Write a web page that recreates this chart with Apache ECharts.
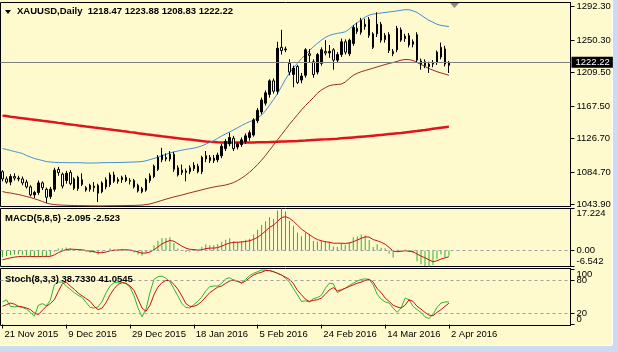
<!DOCTYPE html>
<html>
<head>
<meta charset="utf-8">
<script src="https://cdn.jsdelivr.net/npm/echarts@6/dist/echarts.min.js"></script>
<style>
  html, body { margin: 0; padding: 0; background: #fff9ce; }
  #chart { width: 618px; height: 352px; }
</style>
</head>
<body>
<div id="chart"></div>
<script>
// daily bars, [open, high, low, close]
var candles = [
  [1085, 1087, 1073, 1076], [1076, 1079, 1070, 1072], [1072, 1082, 1068, 1079], [1079, 1083, 1074, 1077],
  [1077, 1080, 1073, 1076], [1076, 1079, 1068, 1071], [1072, 1075, 1064, 1066], [1066, 1068, 1054, 1056],
  [1056, 1061, 1052, 1059], [1059, 1074, 1056, 1071], [1071, 1073, 1062, 1065], [1063, 1065, 1046, 1053],
  [1054, 1066, 1051, 1063], [1063, 1090, 1060, 1087], [1088, 1091, 1080, 1084], [1082, 1084, 1064, 1067],
  [1074, 1086, 1070, 1083], [1084, 1087, 1068, 1070], [1076, 1078, 1062, 1064], [1064, 1080, 1061, 1078],
  [1075, 1083, 1067, 1069], [1065, 1067, 1060, 1062], [1063, 1070, 1060, 1068], [1067, 1072, 1060, 1065],
  [1068, 1070, 1047, 1058], [1060, 1073, 1058, 1071], [1066, 1078, 1063, 1075], [1069, 1084, 1066, 1081],
  [1081, 1085, 1071, 1073], [1073, 1078, 1070, 1075], [1075, 1080, 1071, 1078], [1078, 1081, 1072, 1074],
  [1074, 1077, 1069, 1073], [1074, 1076, 1064, 1066], [1068, 1070, 1059, 1061], [1064, 1066, 1058, 1060],
  [1062, 1077, 1060, 1075], [1074, 1083, 1071, 1080], [1079, 1094, 1077, 1092], [1088, 1106, 1086, 1103],
  [1100, 1115, 1097, 1106], [1103, 1108, 1098, 1101], [1101, 1111, 1098, 1107], [1107, 1110, 1085, 1088],
  [1090, 1093, 1079, 1081], [1087, 1094, 1081, 1084], [1086, 1089, 1073, 1084], [1090, 1093, 1082, 1085],
  [1089, 1097, 1086, 1093], [1092, 1095, 1083, 1085], [1085, 1105, 1082, 1103], [1101, 1111, 1097, 1105],
  [1103, 1106, 1096, 1099], [1099, 1106, 1096, 1102], [1100, 1109, 1097, 1106], [1105, 1120, 1102, 1117],
  [1114, 1126, 1111, 1123], [1120, 1134, 1117, 1128], [1127, 1130, 1111, 1114], [1116, 1122, 1113, 1120],
  [1119, 1128, 1116, 1125], [1123, 1133, 1120, 1130], [1128, 1137, 1124, 1134], [1131, 1152, 1129, 1150],
  [1149, 1165, 1146, 1162], [1160, 1178, 1157, 1175], [1171, 1187, 1168, 1184], [1182, 1201, 1178, 1199],
  [1199, 1202, 1183, 1186], [1186, 1248, 1182, 1240], [1241, 1263, 1232, 1237], [1238, 1242, 1235, 1239],
  [1221, 1226, 1206, 1210], [1207, 1218, 1191, 1215], [1217, 1219, 1195, 1197], [1200, 1209, 1196, 1205],
  [1206, 1240, 1203, 1238], [1233, 1239, 1222, 1231], [1223, 1226, 1203, 1207], [1210, 1234, 1207, 1232],
  [1221, 1241, 1218, 1238], [1236, 1250, 1231, 1234], [1234, 1244, 1228, 1236], [1238, 1240, 1213, 1225],
  [1225, 1235, 1222, 1232], [1232, 1252, 1229, 1248], [1248, 1251, 1232, 1235], [1233, 1252, 1230, 1250],
  [1246, 1269, 1243, 1266], [1265, 1272, 1258, 1261], [1260, 1278, 1257, 1275], [1270, 1277, 1263, 1267],
  [1276, 1279, 1253, 1256], [1258, 1260, 1239, 1241], [1258, 1285, 1254, 1270], [1270, 1273, 1247, 1250],
  [1251, 1259, 1247, 1256], [1257, 1260, 1234, 1237], [1236, 1239, 1230, 1233], [1238, 1268, 1235, 1265],
  [1263, 1266, 1248, 1250], [1252, 1258, 1248, 1255], [1256, 1259, 1241, 1244], [1245, 1251, 1241, 1248],
  [1257, 1260, 1222, 1225], [1224, 1227, 1213, 1220], [1223, 1226, 1215, 1218], [1217, 1223, 1209, 1220],
  [1220, 1225, 1216, 1221], [1222, 1237, 1219, 1235], [1229, 1247, 1226, 1241], [1239, 1243, 1217, 1220],
  [1218.47, 1223.88, 1208.83, 1222.22]
];

var upperBand = [
  1114.2, 1112.9, 1111.7, 1110.4, 1109.2, 1107.9, 1105.4, 1103.5, 1101.6, 1100.4, 1099.1, 1097.8, 1097.2,
  1096.8, 1096.6, 1096.5, 1096.4, 1096.3, 1096.3, 1096.4, 1096.2, 1096.0, 1095.9, 1096.0, 1096.1, 1096.3,
  1096.4, 1096.5, 1096.5, 1096.6, 1096.7, 1096.9, 1097.0, 1097.2,
  1097.4, 1097.8, 1098.8, 1100.2, 1101.7, 1103.2, 1105.0, 1106.8, 1108.6, 1109.9, 1111.0, 1112.1, 1113.0,
  1113.8, 1114.6, 1115.8, 1117.5, 1119.6, 1121.8,
  1124.0, 1127.0, 1129.8, 1132.5, 1135.0, 1137.6, 1140.3, 1143.0, 1145.6, 1147.8,
  1149.8, 1152.6, 1156.0, 1161.5, 1168.5, 1175.5, 1183.0, 1192.0, 1201.0, 1209.0,
  1215.5, 1221.0, 1227.0, 1232.0, 1237.0, 1241.8, 1246.0, 1250.0, 1253.5, 1256.0,
  1257.5, 1258.6, 1259.4, 1260.5, 1264.0, 1268.5, 1272.0, 1275.5, 1279.0, 1281.5,
  1282.8, 1283.5, 1284.2, 1284.8, 1285.5, 1286.0, 1286.8, 1287.5, 1288.3, 1288.2,
  1286.8, 1284.8, 1281.5, 1278.0, 1275.0, 1272.5, 1270.0, 1268.6, 1267.8, 1267.2
];

var lowerBand = [
  1060.2, 1058.9, 1058.3, 1057.3, 1056.5, 1055.2, 1053.9, 1052.7, 1051.2, 1049.5, 1047.7, 1045.8, 1044.5, 1043.9,
  1043.4, 1043.1, 1042.9, 1042.8, 1042.6, 1042.5, 1042.5, 1042.4, 1042.3, 1042.3, 1042.2, 1042.2, 1042.3,
  1042.4, 1042.4, 1042.5, 1042.5, 1042.6, 1042.7, 1042.8, 1042.9, 1043.2,
  1043.8, 1044.6, 1046.0, 1047.5, 1049.0, 1050.6, 1052.0, 1053.4, 1054.6, 1055.8,
  1057.2, 1058.5, 1059.8, 1061.0, 1062.3, 1063.6, 1064.8, 1065.8, 1066.8, 1067.5,
  1068.4, 1069.8, 1071.5, 1074.0, 1077.0, 1080.5, 1084.5, 1089.0, 1094.0, 1099.5,
  1105.5, 1112.0, 1118.5, 1125.0, 1131.5, 1138.0, 1144.5, 1150.5, 1156.5, 1162.5,
  1168.0, 1173.0, 1178.0, 1183.5, 1187.5, 1190.5, 1193.0, 1194.0, 1194.5, 1195.0,
  1197.5, 1202.0, 1206.0, 1208.5, 1210.5, 1212.0, 1213.5, 1215.0, 1216.5, 1218.0,
  1219.5, 1220.8, 1222.0, 1223.5, 1225.0, 1225.8, 1225.6, 1224.5, 1222.0, 1219.5,
  1217.0, 1214.5, 1212.5, 1210.5, 1209.0, 1207.5, 1206.0
];

// slow moving average (thick red)
var slowMa = [
  1155.4, 1154.8, 1154.1, 1153.5, 1152.8, 1152.2, 1151.5, 1150.8, 1150.2,
  1149.6, 1148.9, 1148.3, 1147.6, 1147.0, 1146.3, 1145.7, 1145.0,
  1144.4, 1143.8, 1143.1, 1142.5, 1141.8, 1141.2, 1140.5, 1139.9,
  1139.3, 1138.6, 1138.0, 1137.3, 1136.7, 1136.0, 1135.4, 1134.7,
  1134.1, 1133.4, 1132.8, 1132.1, 1131.5, 1130.8, 1130.2, 1129.5, 1128.9,
  1128.3, 1127.7, 1127.1, 1126.5, 1125.9, 1125.3, 1124.7, 1124.1, 1123.5,
  1123.0, 1122.6, 1122.3, 1122.0, 1121.8, 1121.7, 1121.6, 1121.6,
  1121.6, 1121.6, 1121.7, 1121.7, 1121.8, 1121.9, 1122.0, 1122.1, 1122.2, 1122.4, 1122.6, 1122.8,
  1123.0, 1123.2, 1123.4, 1123.6, 1123.9, 1124.1, 1124.4, 1124.7, 1125.0, 1125.3, 1125.6, 1125.9, 1126.2,
  1126.5, 1126.9, 1127.3, 1127.7, 1128.1, 1128.5, 1128.9, 1129.3,
  1129.7, 1130.2, 1130.7, 1131.2, 1131.7, 1132.2, 1132.7, 1133.2, 1133.7,
  1134.3, 1134.9, 1135.5, 1136.1, 1136.8, 1137.4, 1138.1, 1138.8, 1139.5, 1140.2, 1140.9, 1141.6
];

var macdMain = [
  -2.6, -2.2, -1.8, -1.6, -1.5, -1.7, -2.0, -2.4, -2.7, -2.3, -2.1, -2.5, -2.2,
  -0.5, 0.8, 0.9, 1.2, 0.8, 0.1, 0.4, 0.2, -0.6, -0.8, -0.9, -1.6, -0.8, 0.0, 0.8, 0.5, 0.4, 0.6, 0.4, 0.0, -0.8, -1.6, -2.0, -0.9, 0.3,
  2.1, 4.0, 5.0, 5.1, 5.4, 3.0, 0.8, -0.2, -0.6, -0.5, 0.2, -0.3, 1.6, 2.6, 2.2, 2.2, 2.6, 3.6, 4.4, 5.0, 3.9, 3.6, 3.9, 4.4, 4.8,
  6.6, 8.5, 10.5, 12.0, 13.6, 12.9, 16.4, 17.224, 16.0, 12.2, 10.2, 7.4, 5.9, 7.3, 6.8, 3.9, 3.7, 4.0, 3.8, 3.6, 1.7, 1.4, 3.0, 2.4, 3.4,
  5.4, 5.7, 6.6, 6.2, 4.3, 1.4, 2.6, 1.1, 0.9, -1.3, -2.9, 0.3, 0.2, 0.4, -0.6, -0.9, -4.4, -5.6, -6.3, -6.542, -5.9, -3.6, -1.6, -2.7, -2.095
];

var macdSignal = [
  -3.8, -3.4, -3.0, -2.7, -2.5, -2.4, -2.4, -2.4, -2.5, -2.5, -2.4, -2.4, -2.4,
  -1.8, -0.9, -0.2, 0.4, 0.6, 0.5, 0.4, 0.3, 0.0, -0.3, -0.5, -0.9, -0.9, -0.6, -0.1, 0.1, 0.2, 0.3, 0.3, 0.2, -0.1, -0.6, -1.1, -1.0, -0.6,
  0.3, 1.5, 2.7, 3.5, 4.1, 3.8, 2.8, 1.8, 1.0, 0.5, 0.4, 0.2, 0.3, 0.8, 1.0, 1.0, 1.2, 1.8, 2.5, 3.1, 3.3, 3.4, 3.5, 3.7, 4.0,
  4.6, 5.4, 6.6, 8.0, 9.5, 10.4, 12.0, 13.5, 13.9, 13.2, 12.0, 10.4, 8.8, 7.6, 6.5, 5.4, 4.5, 4.0, 3.6, 3.4, 3.0, 3.0, 3.0, 2.9, 3.1,
  3.6, 4.3, 5.0, 5.6, 5.5, 4.5, 4.0, 3.4, 2.6, 1.3, -0.2, -0.5, -0.3, -0.1, -0.3, -0.5, -1.4, -2.3, -3.0, -3.8, -4.6, -4.2, -3.5, -3.0, -2.523
];

var stochGreen = [
  41, 45, 33, 32, 33, 31, 28, 22, 15, 35, 38, 34, 44, 72, 77, 77, 70, 64, 58, 53, 49, 40, 31, 30, 32,
  42, 58, 70, 76, 77, 77, 74, 68, 52, 30, 14, 28, 58, 82, 87, 88, 84, 78, 65, 52, 38, 31, 30, 36, 42,
  50, 61, 69, 70, 70, 75, 83, 85, 80, 78, 76, 82, 89, 93, 96, 99, 99, 98, 96, 93, 90, 84, 77, 65, 54,
  42, 43, 41, 47, 49, 53, 66, 75, 74, 58, 62, 66, 71, 75, 79, 82, 83, 82, 72, 55, 46, 41, 39, 30, 22,
  30, 48, 45, 33, 27, 22, 14, 11, 18, 31, 39, 41, 41.0545
];

var stochRed = [
  33, 36, 39, 37, 33, 32, 30, 27, 21, 18, 26, 33, 38, 45, 60, 74, 77, 70, 64, 57, 52, 47, 42, 33, 27,
  30, 40, 54, 65, 73, 76, 75, 70, 62, 46, 30, 24, 35, 54, 68, 76, 80, 80, 73, 64, 52, 38, 33, 33, 36,
  42, 50, 58, 63, 68, 70, 75, 79, 81, 79, 75, 79, 85, 90, 93, 95, 98, 98, 96, 93, 90, 86, 82, 74, 62,
  54, 46, 42, 44, 45, 48, 55, 63, 67, 61, 63, 66, 69, 72, 75, 77, 80, 82, 77, 65, 58, 48, 42, 35, 32,
  30, 35, 45, 42, 33, 28, 22, 17, 16, 22, 27, 33, 38.733
];

var dateLabels = ["21 Nov 2015", "9 Dec 2015", "29 Dec 2015", "18 Jan 2016", "5 Feb 2016", "24 Feb 2016", "14 Mar 2016", "2 Apr 2016"];
var dateStep = 16;
var priceTicks = [1292.30, 1250.30, 1209.50, 1167.50, 1126.70, 1084.70, 1043.90];
var macdTicks = [17.224, 0, -6.542];
var stochTicks = [100, 80, 20, 0];
var stochLevels = [80, 20];

var slotCount = 143; // bars + empty right shift
var slots = [];
for (var i = 0; i < slotCount; i++) slots.push(i);

var last = candles[candles.length - 1];
var font = "Liberation Sans";
var txt = { color: "#000", fontFamily: font, fontSize: 9.5 };

function isDateSlot(idx) {
  return idx % dateStep === 0 && idx / dateStep < dateLabels.length;
}

function hiddenX(g) {
  return {
    type: "category", gridIndex: g, data: slots, boundaryGap: true,
    axisLine: { show: false }, axisTick: { show: false },
    axisLabel: { show: false }, splitLine: { show: false }
  };
}

function sideAxis(g, min, max, labels, ticks, vAlign, fmt, showLine) {
  return {
    type: "value", gridIndex: g, position: "right", min: min, max: max,
    splitLine: { show: false },
    axisLine: { show: showLine, onZero: false, lineStyle: { color: "#000", width: 1 } },
    axisTick: { show: !!ticks, customValues: ticks || [], length: 4, lineStyle: { color: "#000" } },
    axisLabel: {
      customValues: labels, margin: 6, verticalAlign: vAlign,
      color: "#000", fontFamily: font, fontSize: 9.5, formatter: fmt
    }
  };
}

var priceFmt = function (v) { return v.toFixed(2); };
var macdFmt = function (v) { return v === 0 ? "0.00" : String(v); };
var plainFmt = function (v) { return String(v); };

// panel frames sit on half pixels so the borders come out crisp
var panel = { left: 0.5, width: 570, show: true, borderColor: "#000", borderWidth: 1, backgroundColor: "transparent" };
function grid(top, height) {
  return Object.assign({}, panel, { top: top, height: height });
}

var chart = echarts.init(document.getElementById("chart"));

var option = {
  backgroundColor: "#fff9ce",
  animation: false,
  title: [
    {
      text: "XAUUSD,Daily  " + last[0].toFixed(2) + " " + last[1].toFixed(2) + " " + last[2].toFixed(2) + " " + last[3].toFixed(2),
      left: 17, top: 6, padding: 0, textStyle: txt
    },
    {
      text: "MACD(5,8,5) " + macdMain[macdMain.length - 1].toFixed(3) + " " + macdSignal[macdSignal.length - 1].toFixed(3),
      left: 5, top: 213, padding: 0, textStyle: txt
    },
    {
      text: "Stoch(8,3,3) " + stochRed[stochRed.length - 1].toFixed(4) + " " + stochGreen[stochGreen.length - 1].toFixed(4),
      left: 5, top: 274, padding: 0, textStyle: txt
    }
  ],
  grid: [grid(2.5, 204), grid(208.5, 58), grid(268.5, 57)],
  xAxis: [
    hiddenX(0),
    hiddenX(1),
    {
      type: "category", gridIndex: 2, data: slots, boundaryGap: true,
      axisLine: { show: false },
      splitLine: { show: false },
      axisTick: {
        show: true, alignWithLabel: true, length: 4,
        interval: function (idx) { return isDateSlot(idx); },
        lineStyle: { color: "#000" }
      },
      axisLabel: {
        show: true, align: "left", margin: 4, padding: [0, 0, 0, 2],
        color: "#000", fontFamily: font, fontSize: 9.5,
        interval: function (idx) { return isDateSlot(idx); },
        formatter: function (v, idx) { return isDateSlot(idx) ? dateLabels[idx / dateStep] : ""; }
      }
    }
  ],
  yAxis: [
    sideAxis(0, 1041.4, 1297.3, priceTicks, priceTicks, "middle", priceFmt, true),
    sideAxis(1, macdTicks[2], macdTicks[0], [macdTicks[1]], macdTicks, "middle", macdFmt, true),
    sideAxis(1, macdTicks[2], macdTicks[0], [macdTicks[0]], null, "top", macdFmt, false),
    sideAxis(1, macdTicks[2], macdTicks[0], [macdTicks[2]], null, "bottom", macdFmt, false),
    sideAxis(2, -1.8, 101.8, [stochTicks[1], stochTicks[2]], stochTicks, "middle", plainFmt, true),
    sideAxis(2, -1.8, 101.8, [stochTicks[0]], null, "top", plainFmt, false),
    sideAxis(2, -1.8, 101.8, [stochTicks[3]], null, "bottom", plainFmt, false)
  ],
  series: [
    {
      type: "line", xAxisIndex: 0, yAxisIndex: 0, data: slowMa, symbol: "none", z: 2,
      lineStyle: { color: "#e0141b", width: 2.5 }
    },
    {
      type: "line", xAxisIndex: 0, yAxisIndex: 0, data: upperBand, symbol: "none", z: 3,
      lineStyle: { color: "#3f8fd8", width: 1 }
    },
    {
      type: "line", xAxisIndex: 0, yAxisIndex: 0, data: lowerBand, symbol: "none", z: 3,
      lineStyle: { color: "#9a2c1e", width: 1 }
    },
    {
      type: "candlestick", xAxisIndex: 0, yAxisIndex: 0, z: 4, barWidth: 2,
      data: candles.map(function (c) { return [c[0], c[3], c[2], c[1]]; }),
      itemStyle: { color: "#000", color0: "#ffffff", borderColor: "#000", borderColor0: "#000", borderWidth: 1 },
      markLine: {
        silent: true, symbol: ["none", "none"],
        data: [{ yAxis: last[3] }],
        lineStyle: { color: "#808080", width: 1, type: "solid" },
        label: {
          show: true, position: "end", distance: 1,
          formatter: last[3].toFixed(2),
          backgroundColor: "#000", color: "#fff", padding: [1, 3, 0, 4],
          fontFamily: font, fontSize: 9.5
        }
      }
    },
    {
      type: "bar", xAxisIndex: 1, yAxisIndex: 1, data: macdMain, barWidth: 1,
      itemStyle: { color: "#33b033" },
      markLine: {
        silent: true, symbol: ["none", "none"], data: [{ yAxis: 0 }],
        lineStyle: { color: "#a0a0a0", width: 1, type: [3, 3] },
        label: { show: false }
      }
    },
    {
      type: "line", xAxisIndex: 1, yAxisIndex: 1, data: macdSignal, symbol: "none",
      lineStyle: { color: "#cc1010", width: 1 }
    },
    {
      type: "line", xAxisIndex: 2, yAxisIndex: 4, data: stochGreen, symbol: "none",
      lineStyle: { color: "#2fb52f", width: 1 },
      markLine: {
        silent: true, symbol: ["none", "none"],
        data: stochLevels.map(function (v) { return { yAxis: v }; }),
        lineStyle: { color: "#a0a0a0", width: 1, type: [3, 3] },
        label: { show: false }
      }
    },
    {
      type: "line", xAxisIndex: 2, yAxisIndex: 4, data: stochRed, symbol: "none",
      lineStyle: { color: "#cc1010", width: 1 }
    }
  ],
  graphic: [
    { type: "polygon", shape: { points: [[5, 10], [11, 10], [8, 14]] }, style: { fill: "#000" } },
    { type: "polygon", shape: { points: [[450, 3], [459, 3], [454.5, 8]] }, style: { fill: "#8c8c8c" } },
    { type: "rect", shape: { x: 0, y: 345, width: 618, height: 7 }, style: { fill: "#c9dcf2" } },
    { type: "rect", shape: { x: 612, y: 0, width: 6, height: 352 }, style: { fill: "#c9dcf2" } },
    { type: "line", shape: { x1: 0, y1: 345.5, x2: 612, y2: 345.5 }, style: { stroke: "#ffffff", lineWidth: 1 } },
    { type: "line", shape: { x1: 612.5, y1: 0, x2: 612.5, y2: 345 }, style: { stroke: "#ffffff", lineWidth: 1 } }
  ]
};

chart.setOption(option);
</script>
</body>
</html>
